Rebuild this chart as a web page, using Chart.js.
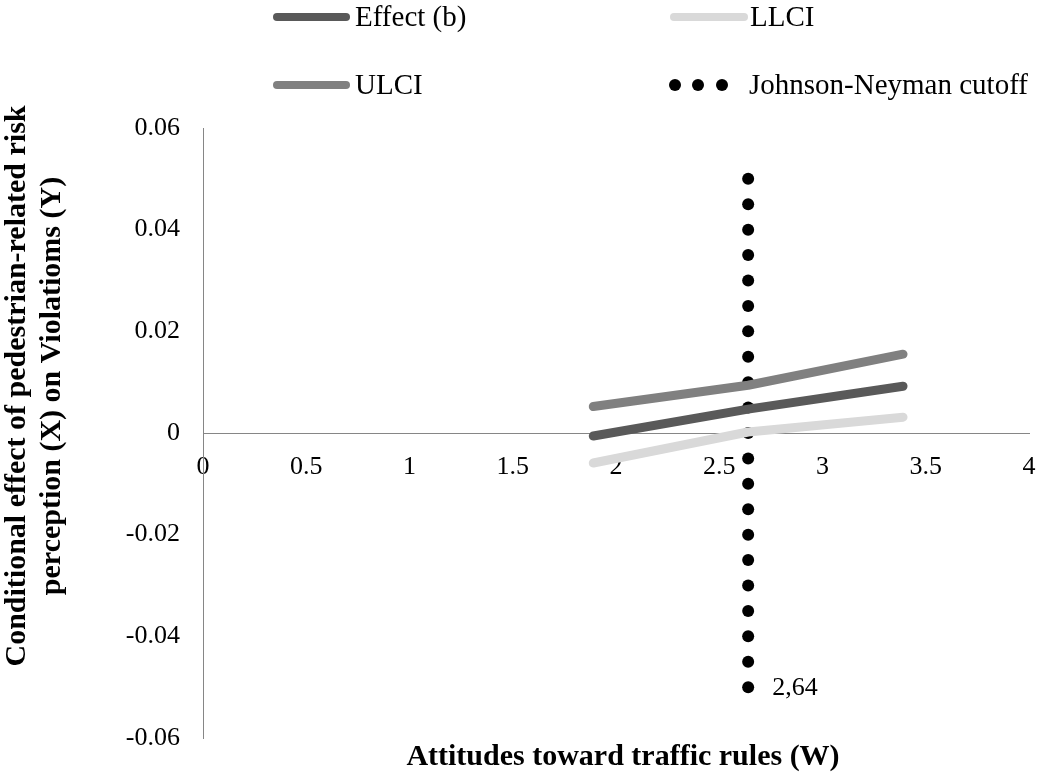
<!DOCTYPE html>
<html>
<head>
<meta charset="utf-8">
<script src="https://cdn.jsdelivr.net/npm/chart.js@4.4.0/dist/chart.umd.min.js"></script>
<style>
  html, body { margin: 0; padding: 0; background: #fff; }
  #wrap { width: 1038px; height: 776px; position: relative; }
</style>
</head>
<body>
<div id="wrap"><canvas id="myChart" width="1038" height="776"></canvas></div>
<script>
// data
const wValues = [1.89, 2.64, 3.39];
const effectB = [-0.0006, 0.0047, 0.0092];
const llci = [-0.0059, 0.0002, 0.0031];
const ulci = [0.0052, 0.0094, 0.0155];
const jnCutoff = 2.64;
const jnY = [0.05, 0.045, 0.04, 0.035, 0.03, 0.025, 0.02, 0.015, 0.01, 0.005, 0,
  -0.005, -0.01, -0.015, -0.02, -0.025, -0.03, -0.035, -0.04, -0.045, -0.05];
const jnLabel = '2,64';
const seriesNames = ['Effect (b)', 'LLCI', 'ULCI', 'Johnson-Neyman cutoff'];
const xTitle = 'Attitudes toward traffic rules (W)';
const yTitle = ['Conditional effect of pedestrian-related risk', 'perception (X) on Violatioms (Y)'];

const serif = '"Liberation Serif", "Times New Roman", serif';
const colors = ['#595959', '#d9d9d9', '#808080', '#000000'];

const toPts = (xs, ys) => xs.map((x, i) => ({ x: x, y: ys[i] }));

const lineDs = (label, ys, color) => ({
  label: label,
  data: toPts(wValues, ys),
  borderColor: color,
  backgroundColor: color,
  borderWidth: 9,
  borderCapStyle: 'round',
  borderJoinStyle: 'round',
  pointRadius: 0,
  tension: 0,
  showLine: true
});

// legend, axis titles and the cutoff label
const extras = {
  id: 'extras',
  afterDraw(chart) {
    const ctx = chart.ctx;
    ctx.save();
    ctx.font = '29px ' + serif;
    ctx.fillStyle = '#000';
    ctx.textBaseline = 'middle';
    ctx.textAlign = 'left';
    ctx.lineCap = 'round';
    ctx.lineWidth = 8;

    const swatch = (x1, x2, y, c) => {
      ctx.strokeStyle = c;
      ctx.beginPath(); ctx.moveTo(x1, y); ctx.lineTo(x2, y); ctx.stroke();
    };
    swatch(277, 346, 17, colors[0]);
    ctx.fillText(seriesNames[0], 355, 18);
    swatch(674, 744, 17, colors[1]);
    ctx.fillText(seriesNames[1], 750, 18);
    swatch(277, 346, 85, colors[2]);
    ctx.fillText(seriesNames[2], 355, 86);
    [675, 698, 722].forEach(x => {
      ctx.beginPath(); ctx.arc(x, 85, 6, 0, Math.PI * 2); ctx.fill();
    });
    ctx.fillText(seriesNames[3], 749, 86);

    // x axis title
    ctx.font = 'bold 30px ' + serif;
    ctx.textAlign = 'center';
    ctx.fillText(xTitle, 623, 757);

    // y axis title, two rotated lines
    ctx.textBaseline = 'alphabetic';
    [[yTitle[0], 25], [yTitle[1], 60]].forEach(([t, bx]) => {
      ctx.save();
      ctx.translate(bx, 386);
      ctx.rotate(-Math.PI / 2);
      ctx.fillText(t, 0, 0);
      ctx.restore();
    });

    // label next to the last cutoff point
    const meta = chart.getDatasetMeta(3);
    const last = meta.data[meta.data.length - 1];
    ctx.font = '26px ' + serif;
    ctx.textAlign = 'left';
    ctx.textBaseline = 'middle';
    ctx.fillText(jnLabel, last.x + 24, last.y + 1);
    ctx.restore();
  }
};

const ctx = document.getElementById('myChart').getContext('2d');
const myChart = new Chart(ctx, {
  type: 'scatter',
  data: {
    datasets: [
      lineDs(seriesNames[0], effectB, colors[0]),
      lineDs(seriesNames[1], llci, colors[1]),
      lineDs(seriesNames[2], ulci, colors[2]),
      {
        label: seriesNames[3],
        data: jnY.map(y => ({ x: jnCutoff, y: y })),
        showLine: false,
        pointRadius: 6,
        pointBackgroundColor: '#000',
        pointBorderWidth: 0,
        borderColor: '#000'
      }
    ]
  },
  options: {
    responsive: false,
    animation: false,
    layout: { padding: { top: 128, right: 9, bottom: 38, left: 0 } },
    plugins: {
      legend: { display: false },
      tooltip: { enabled: false }
    },
    scales: {
      x: {
        type: 'linear',
        min: 0,
        max: 4,
        position: { y: 0 },
        grid: { display: false, drawTicks: false },
        border: { display: true, color: '#868686', width: 1 },
        ticks: {
          stepSize: 0.5,
          padding: 19,
          color: '#000',
          font: { family: serif, size: 26 },
          maxRotation: 0,
          callback: v => String(+v.toFixed(1))
        },
        afterFit(scale) { scale.paddingLeft = 0; scale.paddingRight = 0; }
      },
      y: {
        min: -0.06,
        max: 0.06,
        grid: { display: false, drawTicks: false },
        border: { display: true, color: '#868686', width: 1 },
        ticks: {
          stepSize: 0.02,
          padding: 23,
          color: '#000',
          font: { family: serif, size: 26 },
          callback: v => String(+v.toFixed(2))
        },
        afterFit(scale) { scale.width = 203; scale.paddingTop = 0; scale.paddingBottom = 0; }
      }
    }
  },
  plugins: [extras]
});
</script>
</body>
</html>
